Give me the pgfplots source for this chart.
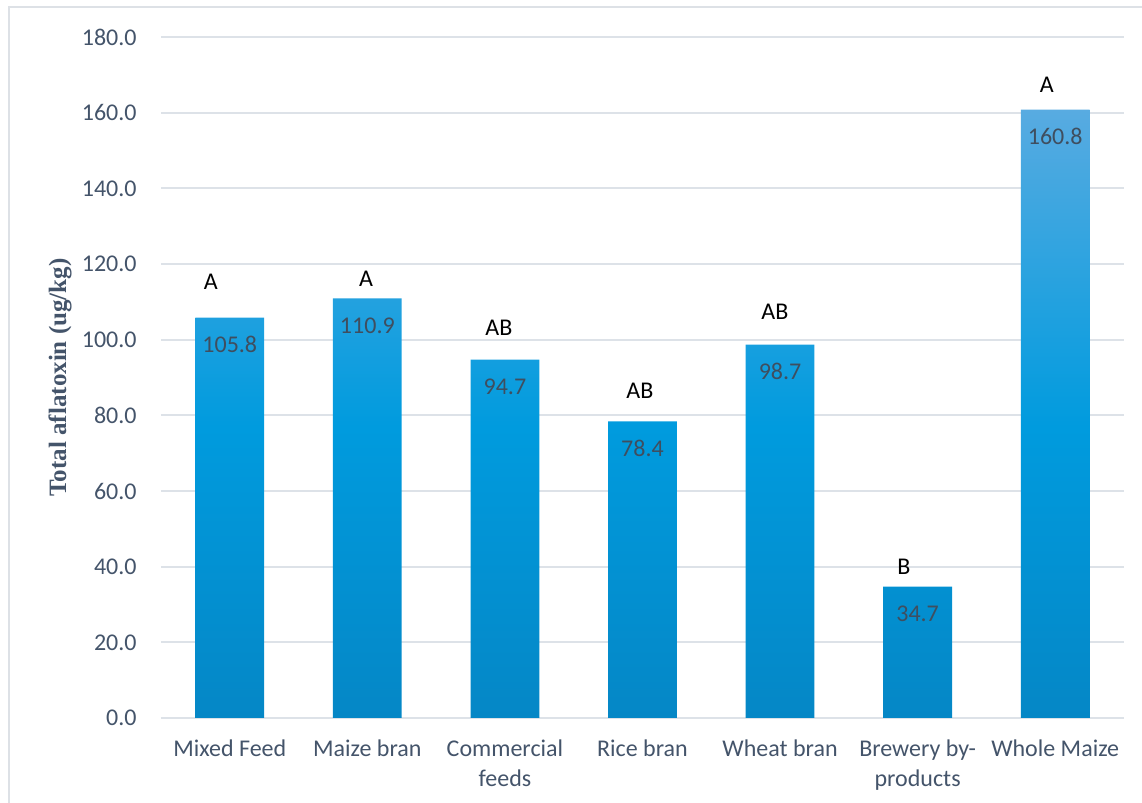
\documentclass[border=0pt]{standalone}
\usepackage{fontspec}
\setmainfont{Carlito}
\newfontfamily\serifb{Liberation Serif}
\usepackage{pgfplots}
\usepackage{pgfplotstable}
\pgfplotsset{compat=1.18}
\definecolor{btop}{HTML}{58ABE1}
\definecolor{bmid}{HTML}{009BDE}
\definecolor{bbot}{HTML}{0587C6}
\definecolor{gridc}{HTML}{DDE2E8}
\definecolor{labc}{HTML}{44546A}
\definecolor{valc}{HTML}{3F4E5F}
\definecolor{framec}{HTML}{DDE1E6}
\pgfdeclareverticalshading{barshade}{100bp}{color(0bp)=(bbot); color(25bp)=(bbot); color(49bp)=(bmid); color(75bp)=(btop); color(100bp)=(btop)}

\pgfplotstableread{
x y lab
0 105.8 105.8
1 110.9 110.9
2 94.7 94.7
3 78.4 78.4
4 98.7 98.7
5 34.7 34.7
6 160.8 160.8
}\bardata

\pgfplotstableread{
x y lab
-0.137 115.2 A
0.990 116.0 A
1.956 103.1 AB
2.981 86.4 AB
3.962 107.3 AB
4.900 39.9 B
5.939 167.3 A
}\letterdata

\begin{document}
\begin{tikzpicture}
\begin{axis}[
  scale only axis,
  width=481.5pt, height=340.5pt,
  xmin=-0.5, xmax=6.5, ymin=0, ymax=180,
  axis x line*=bottom, axis y line*=left,
  x axis line style={draw=gridc, line width=1pt, -},
  y axis line style={draw=none},
  major tick length=0pt,
  ymajorgrids, grid style={draw=gridc, line width=1pt},
  xtick={0,...,6},
  xticklabels={Mixed Feed, Maize bran, Commercial\\feeds, Rice bran, Wheat bran, Brewery by-\\products, Whole Maize},
  ytick={0,20,...,180},
  tick label style={font=\fontsize{12}{14.5}\selectfont, text=labc},
  xticklabel style={anchor=north, inner sep=0pt, yshift=-10.5pt, align=center, font=\fontsize{12}{15}\selectfont},
  yticklabel style={anchor=east, inner sep=0pt, xshift=-12pt, /pgf/number format/.cd, fixed, fixed zerofill, precision=1, assume math mode=true},
  every axis y label/.style={at={(axis description cs:-0.1049,0.5)}, rotate=90, anchor=center},
  ylabel={\serifb\bfseries\fontsize{12.5}{15}\selectfont Total aflatoxin (ug/kg)},
  ylabel style={text=labc},
  clip=false,
]
\addplot[ybar, bar width=0.5, draw=none, shade, shading=barshade] table[x=x, y=y] {\bardata};
\addplot[draw=none, mark=none, nodes near coords, point meta=explicit symbolic,
  nodes near coords style={anchor=center, yshift=-13.5pt, font=\fontsize{12}{14}\selectfont, text=valc}]
  table[x=x, y=y, meta=lab] {\bardata};
\addplot[draw=none, mark=none, nodes near coords, point meta=explicit symbolic,
  nodes near coords style={anchor=center, yshift=0pt, font=\fontsize{12}{14}\selectfont, text=black}]
  table[x=x, y=y, meta=lab] {\letterdata};
\end{axis}
\draw[framec, line width=1pt] (-75.75pt,-60pt) rectangle (510pt,355.5pt);
\pgfresetboundingbox
\path[use as bounding box] (-80.5pt,-42.5pt) rectangle (490.5pt,359pt);
\end{tikzpicture}
\end{document}
